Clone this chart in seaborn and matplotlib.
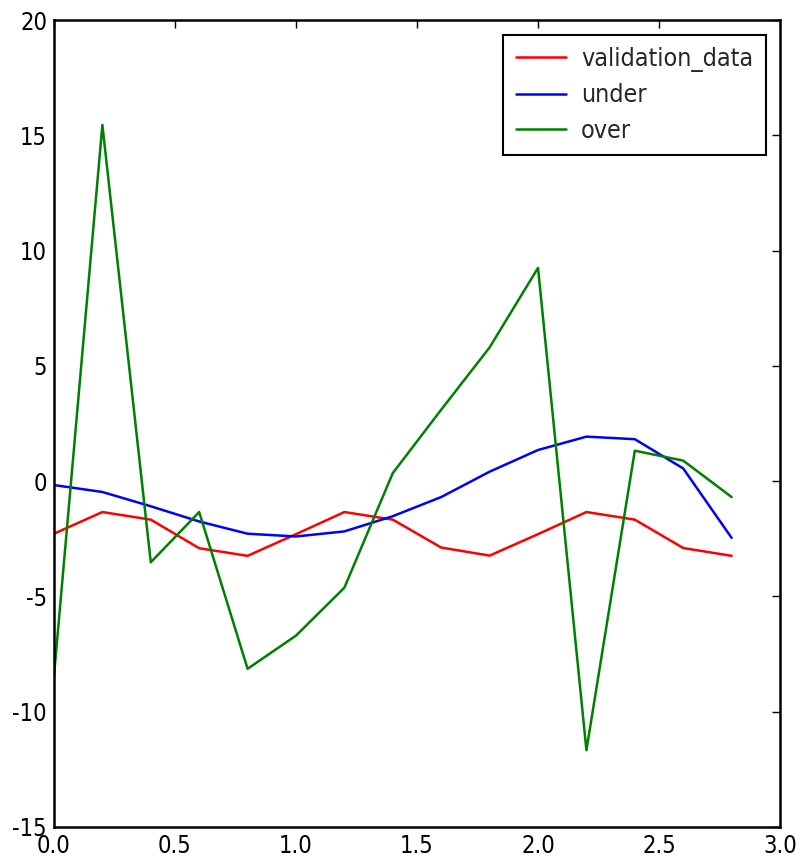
import numpy as np
import pandas as pd
import matplotlib
matplotlib.use("Agg")
import matplotlib.pyplot as plt
import seaborn as sns

# data
x_vals = [0.0, 0.2, 0.4, 0.6, 0.8, 1.0, 1.2, 1.4, 1.6, 1.8, 2.0, 2.2, 2.4, 2.6, 2.8]
validation = [-2.28, -1.34, -1.67, -2.91, -3.24, -2.3, -1.34, -1.67, -2.88, -3.23,
              -2.3, -1.34, -1.67, -2.9, -3.24]
under = [-0.17, -0.47, -1.09, -1.75, -2.28, -2.4, -2.18, -1.52, -0.69, 0.41,
         1.35, 1.93, 1.82, 0.55, -2.46]
over = [-8.45, 15.45, -3.52, -1.34, -8.14, -6.7, -4.62, 0.35, 3.1, 5.8,
        9.25, -11.67, 1.32, 0.89, -0.69]
series_names = ["validation_data", "under", "over"]
colors = {"validation_data": "#ff0000", "under": "#0000ff", "over": "#008000"}

df = pd.DataFrame({
    "x": x_vals * 3,
    "y": validation + under + over,
    "series": [n for n in series_names for _ in x_vals],
})

sns.set_style("white")
plt.rcParams["font.family"] = ["DejaVu Sans"]
plt.rcParams["font.stretch"] = "condensed"

fig = plt.figure(figsize=(8.02, 8.60), dpi=100)
ax = fig.add_axes([0.0673, 0.0384, 0.9053, 0.9383])

sns.lineplot(data=df, x="x", y="y", hue="series", hue_order=series_names,
             palette=colors, ax=ax, linewidth=1.8, legend=True)
for line in ax.lines:
    if line.get_label() == "over":
        line.set_linewidth(1.4)

ax.set_xlim(0, 3)
ax.set_ylim(-15, 20)
ax.set_xticks(np.arange(0, 3.01, 0.5))
ax.set_yticks(np.arange(-15, 20.01, 5))
ax.set_xticklabels([f"{v:.1f}" for v in np.arange(0, 3.01, 0.5)])
ax.set_yticklabels([f"{int(v)}" for v in np.arange(-15, 20.01, 5)])
ax.set_xlabel("")
ax.set_ylabel("")
ax.tick_params(direction="in", length=6, width=1, top=True, right=True,
               labelsize=17, pad=5, colors="black")
for sp in ax.spines.values():
    sp.set_linewidth(1.8)
    sp.set_color("black")

leg = ax.legend(loc="upper right", fontsize=18, frameon=True, fancybox=False,
                edgecolor="black", framealpha=1, handlelength=2.0,
                handletextpad=0.6, borderpad=0.5, labelspacing=0.45,
                borderaxespad=0, bbox_to_anchor=(0.98, 0.982))
leg.get_frame().set_linewidth(1.5)
for h in leg.get_lines():
    h.set_linewidth(1.8)

fig.savefig("out.png", dpi=100)
